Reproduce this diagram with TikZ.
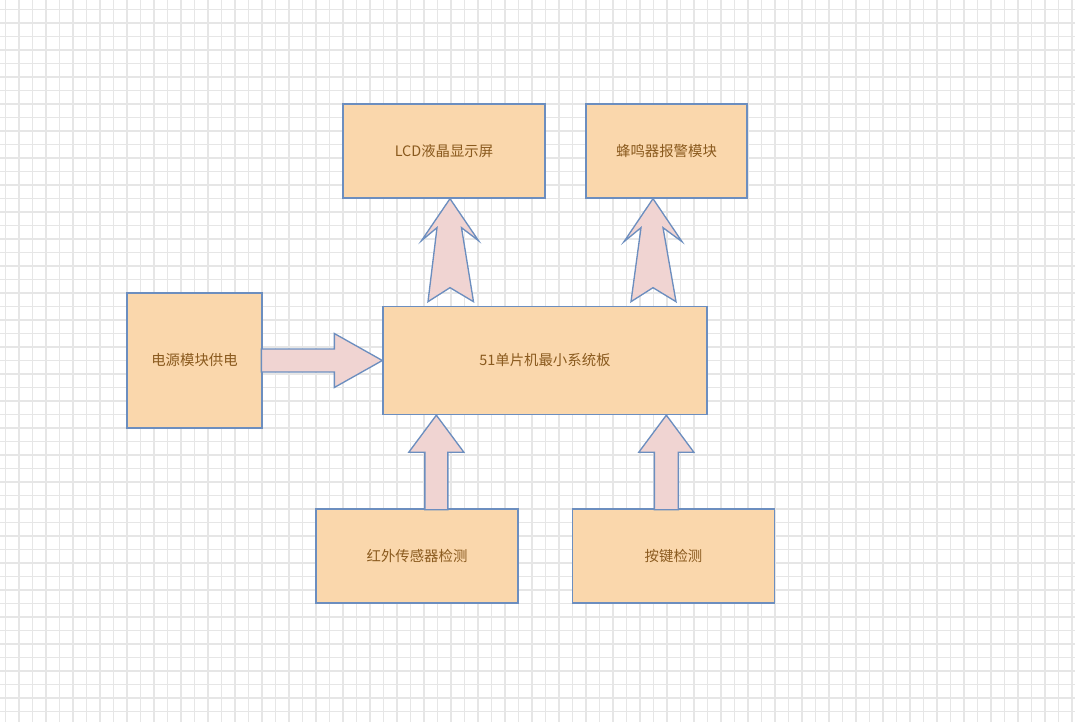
\documentclass[tikz,border=0pt]{standalone}
\usepackage{fontspec}
\setmainfont{Noto Sans CJK SC}
\usetikzlibrary{calc}
\definecolor{bdgrid}{HTML}{E6E6E6}
\definecolor{bdfill}{HTML}{FAD7AC}
\definecolor{bdline}{HTML}{6C8EBF}
\definecolor{bdarrow}{HTML}{F0D4D2}
\definecolor{bdtext}{HTML}{8A5A1E}
\tikzset{
  bd grid/.style={draw=bdgrid, line width=0.8pt},
  bd box/.style={draw=bdline, line width=1pt, fill=bdfill, inner sep=0pt,
    align=center, text=bdtext, font=\fontsize{10.8}{13}\selectfont},
  bd arrow/.style={draw=bdline, line width=1pt, fill=bdarrow, line join=miter}
}

\begin{document}
\begin{tikzpicture}[x=0.75pt, y=-0.75pt]
  \useasboundingbox (0,0) rectangle (1075,722);
  \fill[white] (0,0) rectangle (1075,722);
  \foreach \i in {-1,...,78} \draw[bd grid] (19+13.5*\i,0) -- (19+13.5*\i,722);
  \foreach \j in {-1,...,52} \draw[bd grid] (0,9.5+13.5*\j) -- (1075,9.5+13.5*\j);
  % modules
  \node[bd box, minimum width=151.5pt, minimum height=70.5pt] (lcd) at (444,151) {LCD液晶显示屏};
  \node[bd box, minimum width=120.75pt, minimum height=70.5pt] (buzzer) at (666.5,151) {蜂鸣器报警模块};
  \node[bd box, minimum width=101.25pt, minimum height=101.25pt] (power) at (194.5,360.5) {电源模块供电};
  \node[bd box, minimum width=243pt, minimum height=81pt] (mcu) at (545,360.5) {51单片机最小系统板};
  \node[bd box, minimum width=151.5pt, minimum height=70.5pt] (ir) at (417,556) {红外传感器检测};
  \node[bd box, minimum width=151.5pt, minimum height=70.5pt] (keys) at (673.5,556) {按键检测};
  % block arrows
  \coordinate (lcdtip) at ($(lcd.south)+(6,0)$);
  \coordinate (buztip) at ($(buzzer.south)+(-13.5,0)$);
  \coordinate (irtip) at ($(mcu.south west)+(54,0)$);
  \coordinate (keytip) at ($(mcu.south west)+(284,0)$);
  \draw[bd arrow] (mcu.west) -- ++(-48,-27) -- ++(0,15.5) -- ++(-73,0) -- ++(0,23)
    -- ++(73,0) -- ++(0,15.5) -- cycle;
  \draw[bd arrow] (lcdtip) -- ++(28.5,42) -- ++(-17,-13) -- ++(12,74) -- ++(-23.5,-14)
    -- ++(-22,14) -- ++(9,-74) -- ++(-15.5,13) -- cycle;
  \draw[bd arrow] (buztip) -- ++(29,43) -- ++(-19,-14) -- ++(13,74) -- ++(-23,-14)
    -- ++(-22,14) -- ++(10,-74) -- ++(-17,14) -- cycle;
  \draw[bd arrow] (irtip) -- ++(27.5,37) -- ++(-16,0) -- ++(0,57.5) -- ++(-23,0)
    -- ++(0,-57.5) -- ++(-16,0) -- cycle;
  \draw[bd arrow] (keytip) -- ++(27.5,37) -- ++(-15.5,0) -- ++(0,57.5) -- ++(-24,0)
    -- ++(0,-57.5) -- ++(-15.5,0) -- cycle;
\end{tikzpicture}
\end{document}
